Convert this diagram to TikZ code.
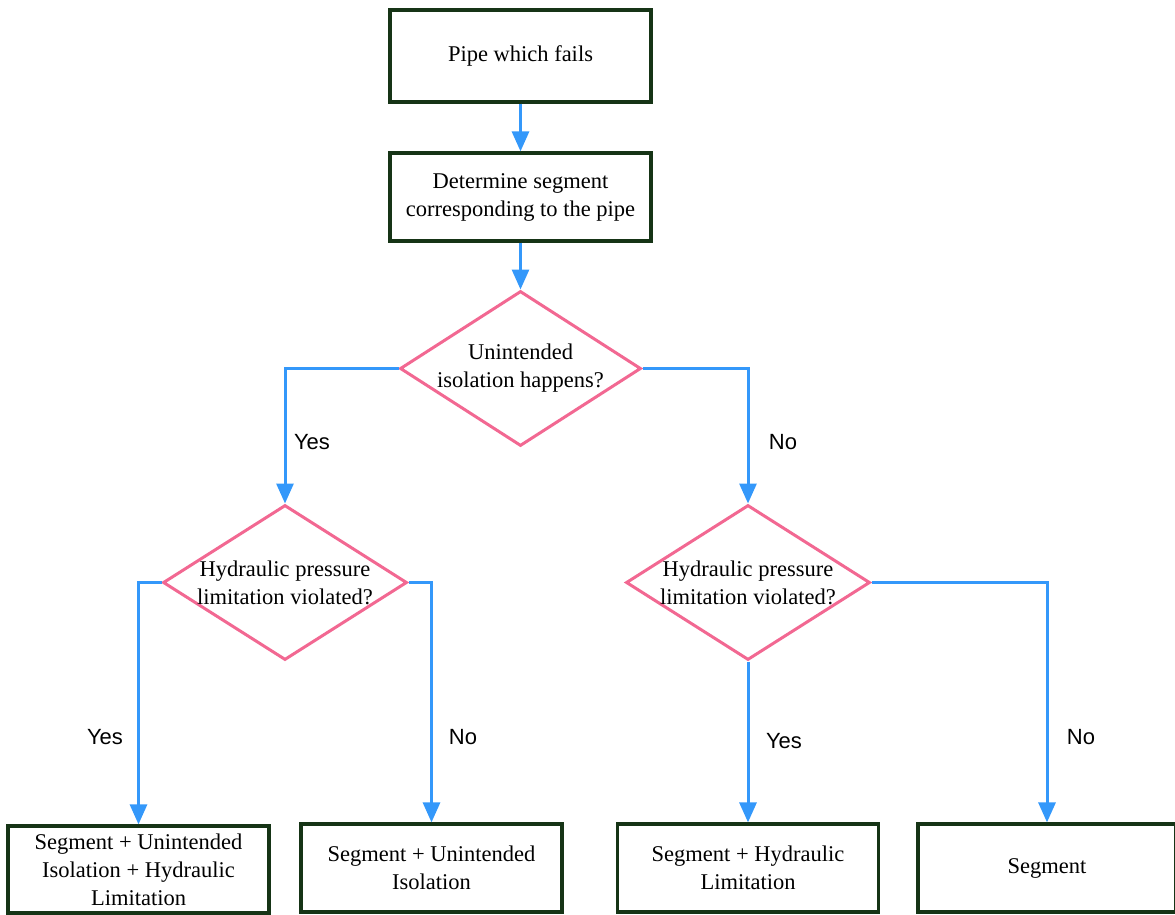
\documentclass[tikz,border=0pt]{standalone}
\usepackage{fontspec}
\setmainfont{Liberation Serif}
\newfontfamily\labelfont{Liberation Sans}
\usetikzlibrary{shapes.geometric,arrows.meta}
\definecolor{boxgreen}{RGB}{22,52,22}
\definecolor{decpink}{RGB}{242,104,146}
\definecolor{flowblue}{RGB}{52,152,250}
\begin{document}
\begin{tikzpicture}[x=1pt,y=-1pt,
  stepbox/.style={draw=boxgreen,line width=3.2pt,rectangle,inner sep=0pt,
    align=center,font=\fontsize{22.5}{28}\selectfont},
  decision/.style={draw=decpink,line width=3pt,diamond,inner sep=0pt,aspect=1.55},
  dectext/.style={align=center,font=\fontsize{22.5}{28}\selectfont},
  flow/.style={draw=flowblue,line width=3pt,-{Triangle[length=20pt,width=17pt]}},
  answer/.style={font=\labelfont\fontsize{22}{26}\selectfont}]
\useasboundingbox (0,0) rectangle (1175,915);

% process boxes
\node[stepbox,minimum width=261pt,minimum height=92pt] (pipe) at (520.5,56) {Pipe which fails};
\node[stepbox,minimum width=261pt,minimum height=88pt] (seg) at (520.5,197) {Determine segment\\corresponding to the pipe};

% decisions
\node[decision,minimum width=241pt,minimum height=155pt] (iso) at (520.5,368.5) {};
\node[dectext] at (iso) {Unintended\\isolation happens?};
\node[decision,minimum width=244pt,minimum height=155pt] (hydL) at (285,582.5) {};
\node[dectext] at (hydL) {Hydraulic pressure\\limitation violated?};
\node[decision,minimum width=244pt,minimum height=155pt] (hydR) at (748,582.5) {};
\node[dectext] at (hydR) {Hydraulic pressure\\limitation violated?};

% outcomes
\node[stepbox,minimum width=261pt,minimum height=87pt] (outA) at (138.5,869.5) {Segment + Unintended\\Isolation + Hydraulic\\Limitation};
\node[stepbox,minimum width=261pt,minimum height=88pt] (outB) at (431.5,868) {Segment + Unintended\\Isolation};
\node[stepbox,minimum width=261pt,minimum height=88pt] (outC) at (748,868) {Segment + Hydraulic\\Limitation};
\node[stepbox,minimum width=258pt,minimum height=88pt] (outD) at (1047,868) {Segment};

% connectors
\draw[flow] (pipe.south) -- (seg.north);
\draw[flow] (seg.south) -- (iso.north);
\draw[flow] (iso.west) -| (hydL.north);
\draw[flow] (iso.east) -| (hydR.north);
\draw[flow] (hydL.west) -| (outA.north);
\draw[flow] (hydL.east) -| (outB.north);
\draw[flow] (hydR.south) -- (outC.north);
\draw[flow] (hydR.east) -| (outD.north);

% branch labels
\node[answer] (y1) at (312,442) {Yes};
\node[answer] (n1) at (783,442) {No};
\node[answer] (y2) at (105,737) {Yes};
\node[answer] (n2) at (463,737) {No};
\node[answer] (y3) at (784,741) {Yes};
\node[answer] (n3) at (1081,737) {No};
\end{tikzpicture}
\end{document}
